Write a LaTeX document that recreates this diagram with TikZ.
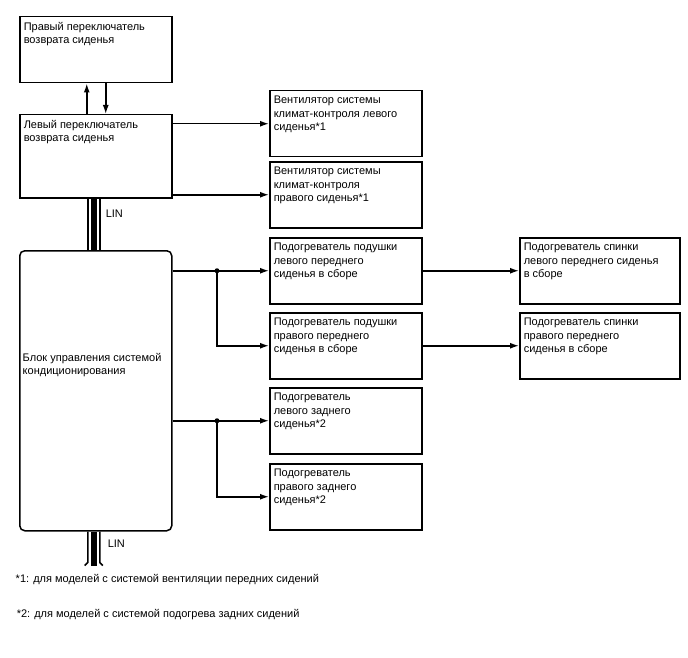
\documentclass[tikz,border=0pt]{standalone}
\usepackage{fontspec}
\setmainfont{Liberation Sans}
\usetikzlibrary{arrows.meta}

\begin{document}
\begin{tikzpicture}[
    x=1pt, y=-1pt,
    font=\fontsize{11}{13.3}\selectfont,
    >={Latex[length=9pt,width=6pt]}, line width=1.5pt,
    box/.style={draw, anchor=north west, minimum width=152pt, minimum height=66pt},
    txt/.style={anchor=north west, align=left, inner xsep=4pt, inner ysep=5.5pt}
]
\useasboundingbox (0,0) rectangle (688,658);

\node[box, label={[txt]north west:{Правый переключатель\\возврата сиденья}}] (rsw) at (19,16) {};
\node[box, minimum height=83pt, label={[txt]north west:{Левый переключатель\\возврата сиденья}}] (lsw) at (19,114) {};
\node[box, rounded corners=5pt, minimum height=280pt,
      label={[anchor=west, align=left, inner xsep=3pt, yshift=26pt]west:{Блок управления системой\\кондиционирования}}] (hvac) at (19,250) {};

\node[box, label={[txt]north west:{Вентилятор системы\\климат-контроля левого\\сиденья*1}}] (fanl) at (269,90) {};
\node[box, label={[txt]north west:{Вентилятор системы\\климат-контроля\\правого сиденья*1}}] (fanr) at (269,161) {};
\node[box, label={[txt]north west:{Подогреватель подушки\\левого переднего\\сиденья в сборе}}] (cushl) at (269,237) {};
\node[box, label={[txt]north west:{Подогреватель подушки\\правого переднего\\сиденья в сборе}}] (cushr) at (269,312) {};
\node[box, label={[txt]north west:{Подогреватель\\левого заднего\\сиденья*2}}] (rearl) at (269,387) {};
\node[box, label={[txt]north west:{Подогреватель\\правого заднего\\сиденья*2}}] (rearr) at (269,463) {};

\node[box, minimum width=160pt, label={[txt]north west:{Подогреватель спинки\\левого переднего сиденья\\в сборе}}] (backl) at (519,237) {};
\node[box, minimum width=160pt, label={[txt]north west:{Подогреватель спинки\\правого переднего\\сиденья в сборе}}] (backr) at (519,312) {};

\draw[->] ([xshift=-9pt]lsw.north) -- ([xshift=-9pt]rsw.south);
\draw[->] ([xshift=10pt]rsw.south) -- ([xshift=10pt]lsw.north);

\draw[->] (lsw.east |- fanl.west) -- (fanl.west);
\draw[->] (lsw.east |- fanr.west) -- (fanr.west);

\coordinate (j1) at ([xshift=-52pt]cushl.west);
\coordinate (j2) at ([xshift=-52pt]rearl.west);
\draw[->] (hvac.east |- cushl.west) -- (cushl.west);
\draw[->] (j1) |- (cushr.west);
\fill (j1) circle (2.5pt);
\draw[->] (hvac.east |- rearl.west) -- (rearl.west);
\draw[->] (j2) |- (rearr.west);
\fill (j2) circle (2.5pt);

\draw[->] (cushl.east) -- (backl.west);
\draw[->] (cushr.east) -- (backr.west);

\draw ([xshift=-8pt]lsw.south) -- ([xshift=-8pt]lsw.south |- hvac.north)
      ([xshift=4pt]lsw.south) -- ([xshift=4pt]lsw.south |- hvac.north);
\draw[line width=6pt] ([xshift=-2pt]lsw.south) -- ([xshift=-2pt]lsw.south |- hvac.north);
\node[anchor=west, inner sep=0pt] (lin1) at (105,214) {LIN};

\draw ([xshift=-8pt]hvac.south) -- ++(0,31) -- ++(-3,3)
      ([xshift=4pt]hvac.south) -- ++(0,31) -- ++(3,3);
\draw[line width=6pt] ([xshift=-2pt]hvac.south) -- ++(0,34);
\node[anchor=west, inner sep=0pt] (lin2) at (107,544) {LIN};

\node[anchor=base west, inner sep=0pt] (fn1) at (15,582) {*1: для моделей с системой вентиляции передних сидений};
\node[anchor=base west, inner sep=0pt] (fn2) at (16,617) {*2: для моделей с системой подогрева задних сидений};

\end{tikzpicture}
\end{document}
